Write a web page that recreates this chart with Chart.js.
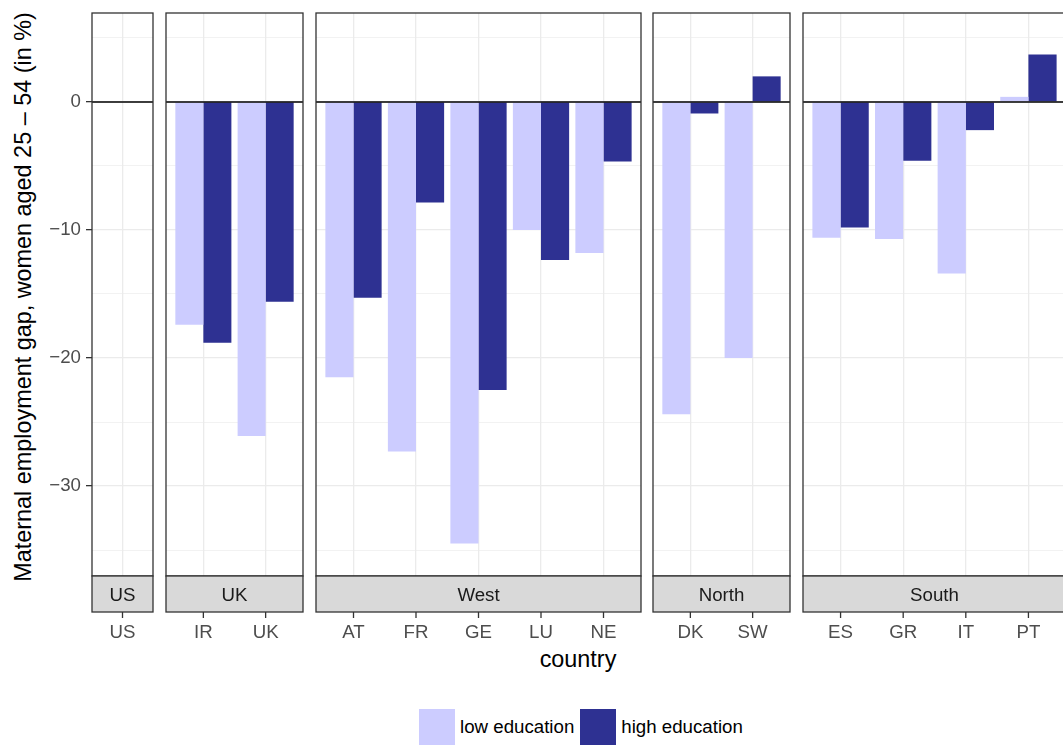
<!DOCTYPE html>
<html>
<head>
<meta charset="utf-8">
<script src="https://cdn.jsdelivr.net/npm/chart.js@4.4.1/dist/chart.umd.min.js"></script>
<style>
  body { margin: 0; background: #fff; font-family: "Liberation Sans", Arial, sans-serif; }
  #wrap { position: relative; width: 1063px; height: 747px; overflow: hidden; }
  #wrap canvas { position: absolute; top: 0; }
  .ytitle { position: absolute; left: 24px; top: 297px; transform: translate(-50%, -50%) rotate(-90deg);
            white-space: nowrap; font-size: 23.4px; line-height: 1; color: #000; }
  .xtitle { position: absolute; left: 578px; top: 648px; transform: translateX(-50%);
            font-size: 23.4px; line-height: 1; color: #000; }
  .legend { position: absolute; left: 419px; top: 709px; display: flex; align-items: center;
            font-size: 18.7px; color: #000; }
  .legend .key { width: 36px; height: 36px; }
  .legend span { margin: 0 6px 0 5px; }
</style>
</head>
<body>
<div id="wrap">
  <div class="ytitle">Maternal employment gap, women aged 25 – 54 (in %)</div>
  <div class="xtitle">country</div>
  <div class="legend">
    <div class="key" style="background:#CCCCFF"></div><span>low education</span>
    <div class="key" style="background:#2E3192"></div><span>high education</span>
  </div>
</div>
<script>
// country groups (facets) and the gap values per education level
const regionNames = ['US', 'UK', 'West', 'North', 'South'];

const usCountries = ['US'];
const usLow = [];
const usHigh = [];

const ukCountries = ['IR', 'UK'];
const ukLow = [-17.4, -26.1];
const ukHigh = [-18.8, -15.6];

const westCountries = ['AT', 'FR', 'GE', 'LU', 'NE'];
const westLow = [-21.5, -27.3, -34.5, -10.0, -11.8];
const westHigh = [-15.3, -7.85, -22.5, -12.35, -4.65];

const northCountries = ['DK', 'SW'];
const northLow = [-24.4, -20.0];
const northHigh = [-0.9, 2.0];

const southCountries = ['ES', 'GR', 'IT', 'PT'];
const southLow = [-10.6, -10.7, -13.4, 0.4];
const southHigh = [-9.8, -4.6, -2.2, 3.7];

const yMin = -37.03;
const yMax = 6.95;
const yMajorStep = 10;
const yMinorStep = 5;

const FONT = '"Liberation Sans", Arial, sans-serif';
const STRIP_H = 36;
const CANVAS_H = 650;
const AREA_TOP = 13;
const AREA_BOTTOM = 576;
const Y_AXIS_W = 92;
const PAD = 4;

Chart.defaults.font.family = FONT;

// panel geometry: left edge, width and x range (0.6 category padding like ggplot)
const panels = [
  { label: regionNames[0], countries: usCountries, low: usLow, high: usHigh, left: 92, width: 61, min: 0.512, max: 1.488 },
  { label: regionNames[1], countries: ukCountries, low: ukLow, high: ukHigh, left: 166, width: 137, min: 0.4, max: 2.6 },
  { label: regionNames[2], countries: westCountries, low: westLow, high: westHigh, left: 316, width: 325, min: 0.4, max: 5.6 },
  { label: regionNames[3], countries: northCountries, low: northLow, high: northHigh, left: 653, width: 137, min: 0.4, max: 2.6 },
  { label: regionNames[4], countries: southCountries, low: southLow, high: southHigh, left: 803, width: 263, min: 0.4, max: 4.6 }
];

const isMajor = v => Math.abs(v % yMajorStep) < 1e-9;
const fmt = v => (v === 0 ? '0' : (v < 0 ? '\u2212' : '') + Math.abs(v));

// zero line, panel frame, facet strip and tick marks below the strip
const panelDecor = {
  id: 'panelDecor',
  afterDatasetsDraw(chart, args, opts) {
    const { ctx, chartArea: a, scales } = chart;
    const w = a.right - a.left;
    const y0 = scales.y.getPixelForValue(0);
    ctx.save();
    ctx.strokeStyle = '#000';
    ctx.lineWidth = 1.6;
    ctx.beginPath();
    ctx.moveTo(a.left, y0);
    ctx.lineTo(a.right, y0);
    ctx.stroke();

    ctx.strokeStyle = '#333333';
    ctx.lineWidth = 1.3;
    ctx.strokeRect(a.left, a.top, w, a.bottom - a.top);

    ctx.fillStyle = '#D9D9D9';
    ctx.fillRect(a.left, a.bottom, w, STRIP_H);
    ctx.strokeRect(a.left, a.bottom, w, STRIP_H);
    ctx.fillStyle = '#1A1A1A';
    ctx.font = '18.7px ' + FONT;
    ctx.textAlign = 'center';
    ctx.textBaseline = 'middle';
    ctx.fillText(opts.label, a.left + w / 2, a.bottom + STRIP_H / 2 + 2);

    ctx.beginPath();
    scales.x.ticks.forEach(t => {
      const x = scales.x.getPixelForValue(t.value);
      ctx.moveTo(x, a.bottom + STRIP_H);
      ctx.lineTo(x, a.bottom + STRIP_H + 6);
    });
    ctx.stroke();
    ctx.restore();
  }
};

const wrap = document.getElementById('wrap');

panels.forEach((p, idx) => {
  const first = idx === 0;
  const padL = first ? Y_AXIS_W : PAD;
  const canvas = document.createElement('canvas');
  canvas.width = padL + p.width + PAD;
  canvas.height = CANVAS_H;
  canvas.style.left = (p.left - padL) + 'px';
  wrap.appendChild(canvas);

  const points = vals => vals.map((v, i) => ({ x: i + 1, y: v }));

  new Chart(canvas.getContext('2d'), {
    type: 'bar',
    data: {
      datasets: [{
        label: 'low education',
        data: points(p.low),
        backgroundColor: '#CCCCFF',
        borderWidth: 0
      }, {
        label: 'high education',
        data: points(p.high),
        backgroundColor: '#2E3192',
        borderWidth: 0
      }]
    },
    options: {
      responsive: false,
      animation: false,
      layout: {
        autoPadding: false,
        padding: { left: first ? 0 : PAD, right: PAD, top: AREA_TOP, bottom: 0 }
      },
      datasets: {
        bar: { categoryPercentage: 0.9, barPercentage: 1 }
      },
      plugins: {
        legend: { display: false },
        tooltip: { enabled: false },
        panelDecor: { label: p.label }
      },
      scales: {
        x: {
          type: 'linear',
          offset: false,
          min: p.min,
          max: p.max,
          afterBuildTicks: axis => {
            axis.ticks = p.countries.map((c, i) => ({ value: i + 1 }));
          },
          afterFit: axis => {
            axis.height = CANVAS_H - AREA_BOTTOM;
            axis.paddingLeft = 0;
            axis.paddingRight = 0;
          },
          border: { display: false },
          grid: { color: '#EBEBEB', lineWidth: 1.3, drawTicks: false, offset: false },
          ticks: {
            autoSkip: false,
            maxRotation: 0,
            padding: 46,
            color: '#4D4D4D',
            font: { size: 18.7 },
            callback: v => p.countries[Math.round(v) - 1]
          }
        },
        y: {
          min: yMin,
          max: yMax,
          afterFit: axis => {
            axis.width = first ? Y_AXIS_W : 0;
            axis.paddingTop = 0;
            axis.paddingBottom = 0;
          },
          border: { display: false },
          grid: {
            color: '#EBEBEB',
            lineWidth: c => (isMajor(c.tick.value) ? 1.3 : 0.65),
            drawTicks: first,
            tickLength: 6,
            tickWidth: 1.3,
            tickColor: c => (isMajor(c.tick.value) ? '#333333' : 'rgba(0,0,0,0)')
          },
          ticks: {
            display: first,
            stepSize: yMinorStep,
            includeBounds: false,
            padding: 5,
            color: '#4D4D4D',
            font: { size: 18.7 },
            callback: v => (isMajor(v) ? fmt(v) : '')
          }
        }
      }
    },
    plugins: [panelDecor]
  });
});
</script>
</body>
</html>
